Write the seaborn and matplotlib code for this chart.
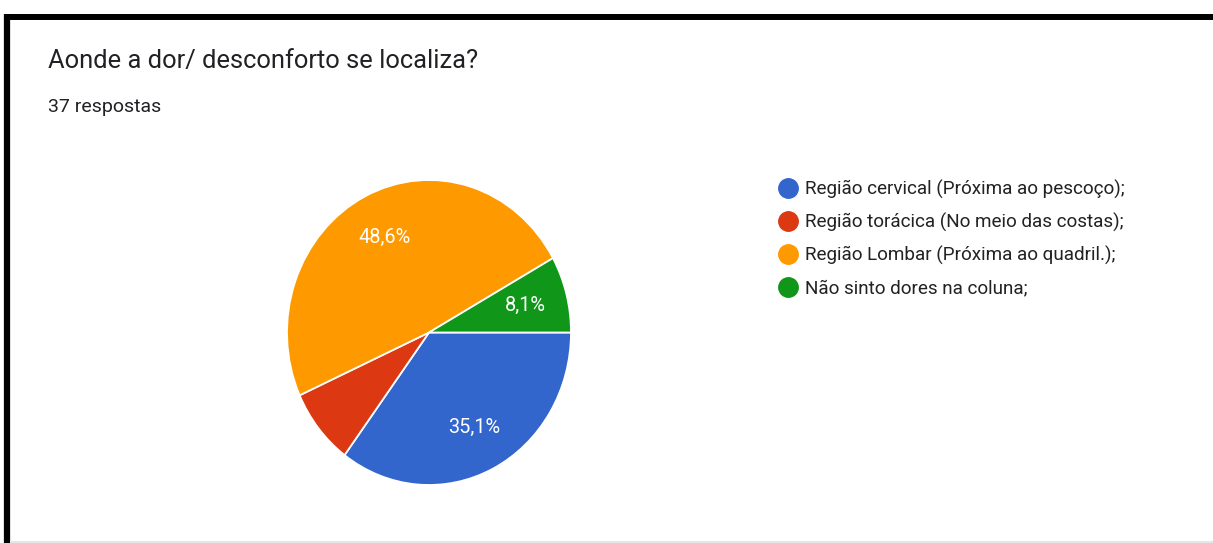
import matplotlib
matplotlib.use("Agg")
import matplotlib.pyplot as plt
from matplotlib.lines import Line2D
import seaborn as sns

categories = [
    "Região cervical (Próxima ao pescoço);",
    "Região torácica (No meio das costas);",
    "Região Lombar (Próxima ao quadril.);",
    "Não sinto dores na coluna;",
]
counts = [13, 3, 18, 3]
pct_labels = ["35,1%", "", "48,6%", "8,1%"]
colors_hex = ["#3366cc", "#dc3912", "#ff9900", "#109618"]
title = "Aonde a dor/ desconforto se localiza?"
subtitle = "37 respostas"

sns.set_theme(style="white")
plt.rcParams["font.family"] = ["Roboto", "DejaVu Sans"]
palette = sns.color_palette(colors_hex)

W, H = 1213, 543
fig = plt.figure(figsize=(W / 100, H / 100), dpi=100)
fig.patch.set_facecolor("white")

# pie axes (slightly elliptical like the reference)
rx, ry = 142, 152.5
cx, cy = 429, 332.5
aw, ah = 2.5 * rx, 2.5 * ry
ax = fig.add_axes([(cx - aw / 2) / W, (H - cy - ah / 2) / H, aw / W, ah / H])

it = iter(pct_labels)
wedges, texts, autotexts = ax.pie(
    counts,
    colors=palette,
    startangle=0,
    counterclock=False,
    autopct=lambda p: next(it),
    pctdistance=0.70,
    wedgeprops=dict(edgecolor="white", linewidth=1.3),
    textprops=dict(color="white", fontsize=14.3),
)
ax.set_aspect("auto")
ax.set_xlim(-1.25, 1.25)
ax.set_ylim(-1.25, 1.25)
ax.axis("off")

# titles
fig.text(48 / W, 1 - 61 / H, title, fontsize=18.4, color="#202124", va="center", ha="left")
fig.text(48 / W, 1 - 107.5 / H, subtitle, fontsize=14.0, color="#202124", va="center", ha="left")

# legend
handles = [
    Line2D([0], [0], marker="o", linestyle="none", markersize=14,
           markerfacecolor=c, markeredgecolor=c)
    for c in palette
]
leg = fig.legend(
    handles, categories,
    loc="upper left",
    bbox_to_anchor=(779 / W, 1 - 179.5 / H),
    frameon=False,
    fontsize=13.6,
    labelcolor="#222222",
    handlelength=0.95,
    handletextpad=0.45,
    labelspacing=0.745,
    borderpad=0,
    borderaxespad=0,
)

# frame lines
fig.add_artist(Line2D([4 / W, 1], [1 - 16.5 / H, 1 - 16.5 / H], color="black", lw=4.3,
                      transform=fig.transFigure, solid_capstyle="butt"))
fig.add_artist(Line2D([7 / W, 7 / W], [1 - 14 / H, 0], color="black", lw=4.5,
                      transform=fig.transFigure, solid_capstyle="butt"))
fig.add_artist(Line2D([10 / W, 1], [1.2 / H, 1.2 / H], color="#e6e6e6", lw=1.5,
                      transform=fig.transFigure, solid_capstyle="butt"))

fig.savefig("out.png", dpi=100, facecolor="white")
